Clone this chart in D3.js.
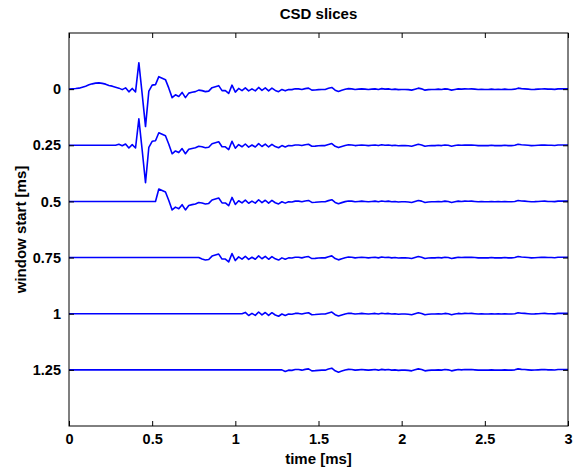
<!DOCTYPE html>
<html>
<head>
<meta charset="utf-8">
<script src="https://cdn.jsdelivr.net/npm/d3@7"></script>
<style>
  html, body { margin: 0; padding: 0; background: #fff; }
  svg { display: block; }
  text { font-family: "Liberation Sans", Arial, Helvetica, sans-serif; font-weight: bold; fill: #000; }
</style>
</head>
<body>
<svg id="chart" width="573" height="470"></svg>
<script>
// ---------------- data ----------------
const windowStarts = [0, 0.25, 0.5, 0.75, 1, 1.25];        // ms, one slice each
const sliceOnsets  = [0, 0.29, 0.53, 0.79, 1.05, 1.29];     // ms, first non-zero sample of each slice
const xTickValues  = [0, 0.5, 1, 1.5, 2, 2.5, 3];
const yTickValues  = [0, 0.25, 0.5, 0.75, 1, 1.25];
const yTickLabels  = ["0", "0.25", "0.5", "0.75", "1", "1.25"];
const sampleStep   = 0.02;   // ms between CSD samples
const traceGain    = 1 / 225; // trace amplitude -> axis units
// CSD trace (arbitrary units, positive = upward), samples from 0 to 3 ms
const csd = [
  0, 0.3, 0.6, 1.0, 2.0, 3.0, 4.3, 5.3, 6.0, 6.3,
  5.8, 5.0, 3.7, 3.0, 2.0, 1.0, -0.5, 1.3, -2.7, 0.7,
  -2.7, 26.5, -5, -37.5, -2, 4, 4.5, 12.5, 11, 9.5,
  1, -8.5, -5.7, -7.3, -3.3, -8.5, -4, -3.2, -2.5, -1,
  -1.5, -2.5, -2, 1.5, 2.5, 3.5, -1.5, -1.5, -4.3, 4,
  -3, 0.7, -1.5, 1.3, -1.8, 0.3, -1.7, 1.7, -1.2, 1.2,
  -1.7, 1, -1.3, -2.5, -0.3, -1.7, -0.3, -0.5, 0.3, 0.3,
  -0.3, 0.5, 1, -1, -0.8, -0.5, -0.3, -0.3, 0.8, 1.7,
  -1, -2.3, -1.2, -0.2, 0.5, 0.3, -0.3, 0, 0.3, 0,
  -0.3, 0, 0.3, -0.3, 0.5, 0, 0.3, -0.3, 0, -0.5,
  -0.3, -0.3, -0.5, -1, 0, 1, 0.3, -1, -0.5, -0.3,
  -0.3, 0, -0.3, 0.3, 0, -1, -0.3, 0.3, 0, 0.3,
  0.2, 0.3, 0, -0.3, -0.2, -0.3, -0.3, 0, -0.3, -0.2,
  -0.3, 0, -0.3, -0.3, 0, 1, 0.5, 0.3, 0, -0.3,
  -0.2, 0, 0.2, 0.3, 0, 0, -0.2, 0.3, 0.3, 0.3,
  0.3
];

// ---------------- layout ----------------
const svg = d3.select("#chart");
const plot = { left: 69, right: 568, top: 33, bottom: 426 };

const x = d3.scaleLinear().domain([0, 3]).range([plot.left, plot.right]);
const y = d3.scaleLinear().domain([-0.25, 1.5]).range([plot.top, plot.bottom]);

const times = d3.range(csd.length).map(i => i * sampleStep);

// traces
const line = d3.line().x(d => x(d[0])).y(d => y(d[1]));
const g = svg.append("g");
windowStarts.forEach((start, k) => {
  const onset = sliceOnsets[k];
  const pts = times.map((t, i) => [t, start - traceGain * (t >= onset - 1e-9 ? csd[i] : 0)]);
  g.append("path")
    .attr("d", line(pts))
    .attr("fill", "none")
    .attr("stroke", "#0000ff")
    .attr("stroke-width", 1.6)
    .attr("stroke-linejoin", "round");
});

// axes (MATLAB-like box with inward ticks)
const tickLen = 5;
const axBottom = d3.axisBottom(x).tickValues(xTickValues).tickSize(-tickLen).tickPadding(8)
  .tickFormat(d3.format("~g"));
const axTop = d3.axisTop(x).tickValues(xTickValues).tickSize(-tickLen).tickFormat("");
const axLeft = d3.axisLeft(y).tickValues(yTickValues).tickSize(-tickLen).tickPadding(8)
  .tickFormat((d, i) => yTickLabels[i]);
const axRight = d3.axisRight(y).tickValues(yTickValues).tickSize(-tickLen).tickFormat("");

function style(sel) {
  sel.select(".domain").remove();
  sel.selectAll("line").attr("stroke", "#000").attr("stroke-width", 1);
  sel.selectAll("text").attr("font-size", 14.5).attr("font-family", null).attr("fill", "#000");
}
svg.append("g").attr("transform", `translate(0,${plot.bottom})`).call(axBottom).call(style);
svg.append("g").attr("transform", `translate(0,${plot.top})`).call(axTop).call(style);
svg.append("g").attr("transform", `translate(${plot.left},0)`).call(axLeft).call(style);
svg.append("g").attr("transform", `translate(${plot.right},0)`).call(axRight).call(style);

svg.append("rect")
  .attr("x", plot.left).attr("y", plot.top)
  .attr("width", plot.right - plot.left).attr("height", plot.bottom - plot.top)
  .attr("fill", "none").attr("stroke", "#000").attr("stroke-width", 1);

// labels
const cx = (plot.left + plot.right) / 2;
svg.append("text").attr("x", cx).attr("y", 19).attr("text-anchor", "middle")
  .attr("font-size", 15).text("CSD slices");
svg.append("text").attr("x", cx).attr("y", 464).attr("text-anchor", "middle")
  .attr("font-size", 15).text("time [ms]");
svg.append("text")
  .attr("transform", `translate(26,${(plot.top + plot.bottom) / 2}) rotate(-90)`)
  .attr("text-anchor", "middle").attr("font-size", 15).text("window start [ms]");
</script>
</body>
</html>
